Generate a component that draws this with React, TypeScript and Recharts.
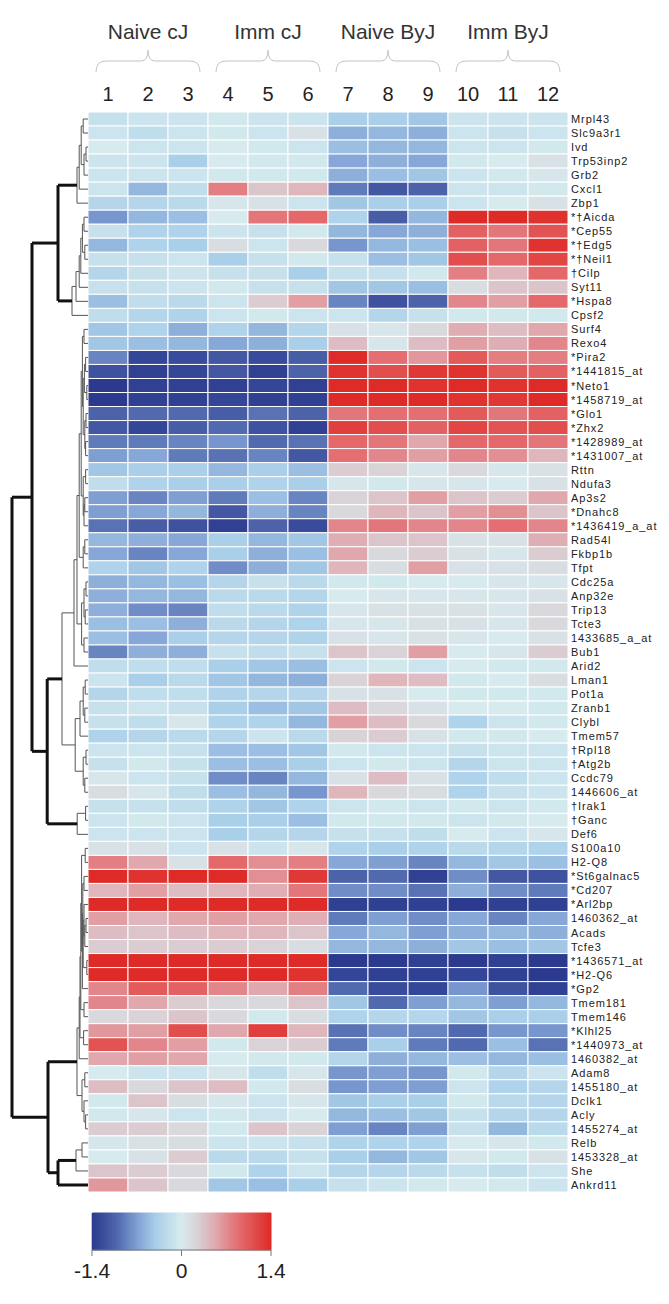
import React from 'react'
import { ComposedChart, XAxis, YAxis, ReferenceArea, ReferenceLine } from 'recharts'

const genes = [
  'Mrpl43', 'Slc9a3r1', 'Ivd', 'Trp53inp2', 'Grb2', 'Cxcl1', 'Zbp1', '*†Aicda', '*Cep55', '*†Edg5',
  '*†Neil1', '†Cilp', 'Syt11', '*Hspa8', 'Cpsf2', 'Surf4', 'Rexo4', '*Pira2', '*1441815_at', '*Neto1',
  '*1458719_at', '*Glo1', '*Zhx2', '*1428989_at', '*1431007_at', 'Rttn', 'Ndufa3', 'Ap3s2', '*Dnahc8', '*1436419_a_at',
  'Rad54l', 'Fkbp1b', 'Tfpt', 'Cdc25a', 'Anp32e', 'Trip13', 'Tcte3', '1433685_a_at', 'Bub1', 'Arid2',
  'Lman1', 'Pot1a', 'Zranb1', 'Clybl', 'Tmem57', '†Rpl18', '†Atg2b', 'Ccdc79', '1446606_at', '†Irak1',
  '†Ganc', 'Def6', 'S100a10', 'H2-Q8', '*St6galnac5', '*Cd207', '*Arl2bp', '1460362_at', 'Acads', 'Tcfe3',
  '*1436571_at', '*H2-Q6', '*Gp2', 'Tmem181', 'Tmem146', '*Klhl25', '*1440973_at', '1460382_at', 'Adam8', '1455180_at',
  'Dclk1', 'Acly', '1455274_at', 'Relb', '1453328_at', 'She', 'Ankrd11',
]

const columns = ['1', '2', '3', '4', '5', '6', '7', '8', '9', '10', '11', '12']
const groups = ['Naive cJ', 'Imm cJ', 'Naive ByJ', 'Imm ByJ']

// samples 1-3
const naiveCJ = [
  [-0.15, -0.1, -0.1], [-0.1, -0.2, -0.1], [0, -0.1, -0.1], [-0.1, -0.1, -0.4], [-0.1, -0.1, -0.1],
  [-0.1, -0.55, -0.2], [-0.3, -0.3, -0.25], [-0.75, -0.55, -0.5], [-0.15, -0.35, -0.35], [-0.55, -0.35, -0.4],
  [-0.15, -0.15, -0.1], [-0.3, -0.15, -0.1], [-0.15, -0.15, -0.1], [-0.5, -0.2, -0.25], [-0.2, -0.3, -0.35],
  [-0.45, -0.35, -0.6], [-0.45, -0.5, -0.55], [-0.85, -1.3, -1.25], [-1.2, -1.35, -1.3], [-1.4, -1.35, -1.35],
  [-1.4, -1.35, -1.35], [-1.05, -1.0, -1.0], [-1.15, -1.3, -1.1], [-0.9, -0.9, -0.85], [-0.7, -0.65, -0.9],
  [-0.45, -0.4, -0.4], [-0.2, -0.35, -0.4], [-0.7, -0.85, -0.7], [-0.7, -0.65, -0.55], [-0.95, -1.1, -1.2],
  [-0.55, -0.6, -0.65], [-0.65, -0.85, -0.65], [-0.35, -0.45, -0.35], [-0.6, -0.55, -0.5], [-0.6, -0.55, -0.55],
  [-0.6, -0.8, -0.85], [-0.5, -0.5, -0.6], [-0.5, -0.65, -0.4], [-0.85, -0.6, -0.6], [-0.2, -0.2, -0.2],
  [-0.1, -0.4, -0.25], [-0.3, -0.2, -0.2], [-0.15, -0.1, -0.15], [-0.15, -0.2, 0.05], [-0.35, -0.3, -0.25],
  [-0.1, -0.1, -0.15], [-0.15, -0.05, -0.15], [0.05, -0.1, -0.15], [0.15, 0.05, -0.2], [-0.15, -0.15, -0.2],
  [-0.1, -0.05, -0.1], [-0.1, -0.1, -0.1], [0.1, 0.1, -0.1], [0.8, 0.55, 0.1], [1.4, 1.35, 1.4],
  [0.45, 0.6, 0.4], [1.4, 1.4, 1.4], [0.6, 0.45, 0.55], [0.4, 0.35, 0.4], [0.3, 0.3, 0.3],
  [1.4, 1.4, 1.4], [1.4, 1.4, 1.4], [0.75, 1.05, 1.0], [0.75, 0.55, 0.3], [0.2, 0.25, 0.35],
  [0.65, 0.6, 1.15], [1.1, 0.75, 0.6], [0.55, 0.6, 0.55], [0, -0.1, -0.1], [0.4, 0.2, 0.35],
  [-0.05, 0.35, 0.15], [-0.05, 0.05, -0.1], [0.3, 0.3, 0.2], [0.05, 0.1, 0.15], [0, 0.1, 0.3],
  [0.35, 0.3, 0.2], [0.65, 0.35, 0.2],
]

// samples 4-6
const immCJ = [
  [-0.05, -0.1, -0.1], [-0.05, -0.1, 0.1], [0, -0.05, -0.1], [0, -0.05, -0.05], [-0.05, -0.05, -0.05],
  [0.8, 0.35, 0.45], [0.05, 0.1, -0.1], [0, 0.85, 0.95], [-0.1, -0.15, -0.05], [0.15, -0.1, 0.2],
  [-0.4, -0.15, -0.05], [-0.15, -0.15, -0.4], [-0.05, -0.15, -0.15], [-0.1, 0.3, 0.6], [-0.1, -0.05, -0.1],
  [-0.35, -0.55, -0.3], [-0.65, -0.6, -0.4], [-1.15, -1.25, -1.1], [-1.15, -1.35, -1.05], [-1.35, -1.3, -1.35],
  [-1.3, -1.35, -1.35], [-1.1, -0.95, -1.05], [-1.0, -1.2, -1.35], [-0.75, -1.0, -0.95], [-0.95, -0.85, -1.15],
  [-0.55, -0.4, -0.5], [-0.4, -0.35, -0.4], [-0.9, -0.5, -0.85], [-1.15, -0.6, -0.85], [-1.35, -1.05, -1.25],
  [-0.4, -0.55, -0.45], [-0.4, -0.6, -0.5], [-0.8, -0.6, -0.45], [-0.3, -0.15, -0.25], [-0.25, -0.25, -0.3],
  [-0.2, -0.25, -0.35], [-0.25, -0.3, -0.35], [-0.3, -0.3, -0.35], [-0.15, -0.2, -0.15], [-0.4, -0.45, -0.5],
  [-0.45, -0.55, -0.6], [-0.35, -0.3, -0.3], [-0.4, -0.5, -0.45], [-0.35, -0.35, -0.55], [-0.3, -0.1, -0.25],
  [-0.5, -0.5, -0.45], [-0.5, -0.5, -0.4], [-0.8, -0.85, -0.55], [-0.5, -0.55, -0.75], [-0.35, -0.45, -0.35],
  [-0.4, -0.4, -0.5], [-0.4, -0.3, -0.3], [0.1, -0.1, 0.05], [0.95, 0.7, 0.8], [1.4, 0.7, 1.3],
  [0.45, 0.5, 0.85], [1.4, 1.4, 1.4], [0.6, 0.55, 0.5], [0.45, 0.45, 0.35], [0.3, 0.25, 0.15],
  [1.4, 1.4, 1.4], [1.4, 1.4, 1.35], [0.75, 0.55, 0.8], [0.2, 0.2, 0.35], [0.2, -0.05, 0.15],
  [0.55, 1.25, 0.45], [-0.05, 0.25, 0.3], [0, -0.05, -0.05], [0.05, -0.2, 0.05], [0.4, -0.05, 0.15],
  [0.05, -0.1, 0.05], [-0.05, -0.1, 0], [-0.05, 0.35, 0.25], [-0.1, -0.1, -0.15], [-0.25, -0.25, -0.15],
  [-0.05, -0.35, -0.1], [-0.45, -0.5, -0.4],
]

// samples 7-9
const naiveByJ = [
  [-0.4, -0.4, -0.45], [-0.6, -0.55, -0.6], [-0.5, -0.55, -0.55], [-0.65, -0.6, -0.65], [-0.6, -0.5, -0.45],
  [-0.9, -1.15, -1.05], [-0.45, -0.4, -0.4], [-0.35, -1.1, -0.55], [-0.55, -0.65, -0.6], [-0.75, -0.55, -0.5],
  [-0.15, -0.5, -0.45], [-0.15, -0.15, -0.05], [-0.45, -0.45, -0.5], [-0.85, -1.2, -1.05], [-0.1, -0.3, -0.15],
  [0.1, 0.05, 0.2], [0.4, 0.05, 0.4], [1.4, 0.9, 0.65], [1.35, 1.15, 1.3], [1.4, 1.4, 1.35],
  [1.4, 1.4, 1.4], [0.85, 0.9, 0.9], [1.25, 1.15, 1.0], [0.95, 0.85, 0.55], [0.9, 0.75, 0.6],
  [0.3, 0.25, 0.05], [0.05, -0.05, 0.05], [0.25, 0.35, 0.6], [0.2, 0.45, 0.35], [0.75, 0.85, 0.75],
  [0.5, 0.35, 0.35], [0.55, 0.2, 0.3], [0.45, 0.15, 0.6], [-0.05, -0.05, 0], [0, 0.05, 0.05],
  [0.05, 0.1, 0.1], [0.05, 0.05, 0.1], [0.1, 0.05, 0.1], [0.35, 0.25, 0.6], [-0.1, -0.05, -0.1],
  [0.25, 0.45, 0.4], [0.1, 0.1, 0], [0.4, 0.2, 0.1], [0.6, 0.4, 0.2], [0.25, 0.3, 0.1],
  [-0.05, -0.1, -0.1], [-0.1, -0.05, -0.1], [0.1, 0.4, 0.1], [0.45, 0.2, 0.15], [-0.1, -0.05, -0.1],
  [-0.05, -0.05, -0.05], [-0.15, -0.15, -0.2], [-0.35, -0.4, -0.35], [-0.65, -0.7, -0.85], [-1.05, -1.0, -1.35],
  [-0.8, -0.8, -0.95], [-1.35, -1.35, -1.35], [-0.9, -0.7, -0.8], [-0.65, -0.55, -0.7], [-0.55, -0.55, -0.6],
  [-1.4, -1.4, -1.35], [-1.3, -1.35, -1.35], [-1.0, -1.25, -1.3], [-0.45, -1.0, -0.7], [-0.35, -0.3, -0.3],
  [-0.95, -0.8, -0.85], [-0.9, -0.4, -0.9], [-0.3, -0.6, -0.55], [-0.75, -0.7, -0.75], [-0.75, -0.7, -0.7],
  [-0.45, -0.4, -0.4], [-0.55, -0.5, -0.45], [-0.7, -0.85, -0.7], [-0.35, -0.35, -0.35], [-0.4, -0.55, -0.45],
  [-0.3, -0.3, -0.25], [-0.15, -0.1, -0.05],
]

// samples 10-12
const immByJ = [
  [-0.1, -0.1, -0.1], [-0.1, -0.15, -0.1], [-0.1, -0.1, -0.05], [-0.05, 0, 0.1], [-0.1, -0.05, 0.05],
  [-0.1, -0.1, -0.05], [-0.1, 0, 0.1], [1.4, 1.4, 1.35], [1.0, 0.85, 1.1], [1.0, 0.85, 1.35],
  [1.15, 0.95, 1.2], [0.8, 0.45, 0.95], [0.15, 0.35, 0.35], [0.75, 0.6, 0.95], [-0.05, -0.05, -0.05],
  [0.5, 0.4, 0.55], [0.6, 0.5, 0.75], [1.05, 0.8, 0.8], [1.35, 1.05, 1.0], [1.4, 1.35, 1.4],
  [1.35, 1.3, 1.4], [1.05, 0.85, 1.0], [1.2, 1.1, 1.15], [0.95, 0.95, 0.85], [0.75, 0.7, 0.45],
  [0.2, 0.05, 0.1], [0.05, 0, 0.1], [0.35, 0.3, 0.55], [0.6, 0.7, 0.35], [0.75, 0.9, 0.75],
  [0.1, 0.1, 0.5], [0.1, 0.05, 0.3], [0.1, 0.1, 0.15], [0, 0.05, 0.05], [0.05, 0.05, 0.1],
  [0.1, 0.05, 0.2], [0.1, 0.05, 0.2], [0.05, 0, 0.1], [0, 0.05, 0.3], [0, -0.05, -0.05],
  [-0.05, 0, 0.15], [-0.05, -0.05, -0.05], [0, 0, -0.05], [-0.35, -0.1, -0.05], [-0.05, -0.05, 0],
  [-0.15, -0.1, -0.1], [-0.3, -0.1, -0.1], [-0.35, -0.2, -0.1], [-0.35, -0.15, -0.1], [-0.05, -0.1, -0.05],
  [-0.1, -0.05, 0], [0, -0.1, 0.05], [-0.25, -0.3, -0.35], [-0.55, -0.45, -0.5], [-0.8, -1.15, -1.2],
  [-0.6, -0.8, -0.9], [-1.4, -1.35, -1.35], [-0.65, -0.85, -0.65], [-0.6, -0.55, -0.6], [-0.45, -0.5, -0.45],
  [-1.4, -1.35, -1.4], [-1.3, -1.35, -1.4], [-0.75, -1.2, -1.35], [-0.55, -0.7, -0.55], [-0.45, -0.4, -0.4],
  [-1.0, -0.75, -0.75], [-1.0, -0.5, -0.95], [-0.5, -0.55, -0.5], [-0.05, -0.3, -0.1], [-0.1, -0.35, -0.3],
  [-0.05, -0.25, -0.3], [-0.15, -0.3, -0.3], [-0.15, -0.55, -0.25], [0, 0.05, -0.05], [0.05, -0.05, 0.1],
  [-0.15, -0.2, -0.1], [0, -0.05, -0.1],
]

const scaleTicks = [-1.4, 0, 1.4]
const colorStops: [number, string][] = [
  [-1.4, '#2b3a8f'], [-1.0, '#5169ae'], [-0.7, '#7f9fd3'], [-0.4, '#a9cfe9'], [0, '#d7ebee'],
  [0.25, '#d9d3d8'], [0.55, '#e0a7ad'], [0.9, '#e46e71'], [1.4, '#df2b28'],
]

// row clustering: [left, right, height]; leaves are row indexes
type Node = number | [Node, Node, number]
const j = (a: Node, b: Node, h: number): Node => [a, b, h]

const clusterA = j(
  j(j(j(j(0, 1, 0.12), j(j(2, 3, 0.05), 4, 0.1), 0.17), 5, 0.22), 6, 0.275),
  j(j(j(j(j(j(7, 8, 0.1), j(9, 10, 0.08), 0.14), 11, 0.18), 12, 0.22), 13, 0.3), 14, 0.4),
  0.75,
)
const core = j(j(j(17, 18, 0.06), j(19, 20, 0.03), 0.09), j(j(21, 22, 0.05), j(23, 24, 0.06), 0.08), 0.12)
const clusterM = j(
  j(j(j(15, 16, 0.1), core, 0.14), j(j(25, 26, 0.06), j(j(27, 28, 0.08), 29, 0.1), 0.12), 0.17),
  j(j(30, 31, 0.08), 32, 0.12),
  0.22,
)
const clusterE1 = j(j(j(33, 34, 0.05), j(35, 36, 0.07), 0.1), j(37, 38, 0.1), 0.16)
const clusterE2 = j(
  j(j(j(40, 41, 0.07), j(42, 43, 0.08), 0.12), 44, 0.2),
  j(j(45, 46, 0.05), j(47, 48, 0.08), 0.12),
  0.32,
)
const clusterE = j(j(j(clusterM, clusterE1, 0.275), 39, 0.35), clusterE2, 0.65)
const clusterC = j(clusterE, j(j(49, 50, 0.06), 51, 0.27), 1.02)
const core2 = j(j(54, 55, 0.1), j(j(56, j(j(57, 58, 0.05), 59, 0.08), 0.1), j(60, 61, 0.03), 0.12), 0.13)
const clusterD1a = j(
  j(j(j(j(52, 53, 0.07), j(core2, 62, 0.14), 0.16), j(63, 64, 0.1), 0.18), j(65, 66, 0.11), 0.2),
  67,
  0.22,
)
const clusterD1 = j(clusterD1a, j(j(68, 69, 0.08), j(70, j(71, 72, 0.06), 0.1), 0.15), 0.275)
const clusterD2 = j(j(j(73, 74, 0.15), 75, 0.3), 76, 0.75)
const tree: Node = j(j(clusterA, clusterC, 1.4), j(clusterD1, clusterD2, 1.0), 1.9)

const FONT = 'Liberation Sans, Arial, sans-serif'

function hex(c: string) {
  return [1, 3, 5].map((i) => parseInt(c.slice(i, i + 2), 16))
}

function colorFor(v: number) {
  const x = Math.max(-1.4, Math.min(1.4, v))
  for (let i = 1; i < colorStops.length; i++) {
    const [v1, c1] = colorStops[i]
    if (x <= v1) {
      const [v0, c0] = colorStops[i - 1]
      const t = (x - v0) / (v1 - v0)
      const a = hex(c0), b = hex(c1)
      const m = a.map((n, k) => Math.round(n + (b[k] - n) * t))
      return `rgb(${m[0]},${m[1]},${m[2]})`
    }
  }
  return colorStops[colorStops.length - 1][1]
}

interface Seg { x1: number; y1: number; x2: number; y2: number; thick: boolean }

function layout(node: Node, segs: Seg[]): { y: number; h: number } {
  if (typeof node === 'number') return { y: node + 0.5, h: 0 }
  const [a, b, h] = node
  const l = layout(a, segs)
  const r = layout(b, segs)
  const thick = h >= 0.7
  segs.push({ x1: -h, y1: l.y, x2: -h, y2: r.y, thick })
  segs.push({ x1: -l.h, y1: l.y, x2: -h, y2: l.y, thick })
  segs.push({ x1: -r.h, y1: r.y, x2: -h, y2: r.y, thick })
  return { y: (l.y + r.y) / 2, h }
}

const ColumnTick = (props: any) => {
  const { x, y, payload } = props
  const i = Math.floor(payload.value)
  const showGroup = i % 3 === 1
  const w = 52
  return (
    <g>
      <text x={x} y={y - 11} textAnchor="middle" fontSize={20} fill="#222" fontFamily={FONT}>
        {columns[i]}
      </text>
      {showGroup && (
        <g>
          <text x={x} y={y - 73} textAnchor="middle" fontSize={21} fill="#333" fontFamily={FONT}>
            {groups[(i - 1) / 3]}
          </text>
          <path
            d={`M${x - w},${y - 40} Q${x - w},${y - 51} ${x - w + 10},${y - 51} L${x - 7},${y - 51} Q${x},${y - 51} ${x},${y - 62} Q${x},${y - 51} ${x + 7},${y - 51} L${x + w - 10},${y - 51} Q${x + w},${y - 51} ${x + w},${y - 40}`}
            fill="none"
            stroke="#c4c4c4"
            strokeWidth={1}
          />
        </g>
      )}
    </g>
  )
}

const GeneTick = (props: any) => {
  const { x, y, payload } = props
  return (
    <text x={x + 3} y={y} dy={4} fontSize={11} letterSpacing={0.9} fill="#222" fontFamily={FONT} textAnchor="start">
      {genes[Math.floor(payload.value)]}
    </text>
  )
}

export default function App() {
  const samples = genes.map((_, r) => [...naiveCJ[r], ...immCJ[r], ...naiveByJ[r], ...immByJ[r]])
  const segs: Seg[] = []
  layout(tree, segs)
  const step = 0.02
  const slices = Array.from({ length: Math.round(2.8 / step) }, (_, i) => -1.4 + i * step)

  return (
    <div style={{ position: 'absolute', left: 0, top: 0, width: 669, height: 1304, background: '#fff' }}>
      <ComposedChart width={669} height={1200} margin={{ top: 2, right: 0, bottom: 8, left: 8 }}>
        <XAxis
          type="number"
          dataKey="x"
          domain={[-2, 12]}
          orientation="top"
          height={110}
          ticks={columns.map((_, i) => i + 0.5)}
          interval={0}
          tick={<ColumnTick />}
          tickSize={0}
          tickMargin={0}
          axisLine={false}
          allowDataOverflow
        />
        <YAxis
          type="number"
          dataKey="y"
          domain={[0, genes.length]}
          reversed
          orientation="right"
          width={101}
          ticks={genes.map((_, i) => i + 0.5)}
          interval={0}
          tick={<GeneTick />}
          tickSize={0}
          tickMargin={0}
          axisLine={false}
          allowDataOverflow
        />
        {samples.map((row, r) =>
          row.map((v, c) => (
            <ReferenceArea
              key={`c-${r}-${c}`}
              x1={c}
              x2={c + 1}
              y1={r}
              y2={r + 1}
              fill={colorFor(v)}
              fillOpacity={1}
              stroke="#ffffff"
              strokeWidth={1}
              ifOverflow="visible"
            />
          )),
        )}
        {segs.map((s, i) => (
          <ReferenceLine
            key={`d-${i}`}
            segment={[{ x: s.x1, y: s.y1 }, { x: s.x2, y: s.y2 }]}
            stroke={s.thick ? '#111' : '#555'}
            strokeWidth={s.thick ? 3 : 1}
            ifOverflow="visible"
          />
        ))}
      </ComposedChart>
      <div style={{ position: 'absolute', left: 0, top: 1205 }}>
        <ComposedChart width={300} height={90} margin={{ top: 8, right: 29, bottom: 0, left: 92 }}>
          <XAxis
            type="number"
            dataKey="x"
            domain={[-1.4, 1.4]}
            ticks={scaleTicks}
            interval={0}
            height={45}
            tickSize={6}
            tickMargin={7}
            stroke="#777"
            tick={{ fontSize: 21, fill: '#222', fontFamily: FONT }}
            allowDataOverflow
          />
          <YAxis type="number" dataKey="y" domain={[0, 1]} ticks={[0, 1]} width={0} hide allowDataOverflow />
          {slices.map((v) => (
            <ReferenceArea
              key={`g-${v}`}
              x1={v}
              x2={Math.min(1.4, v + step * 2)}
              y1={0}
              y2={1}
              fill={colorFor(v + step / 2)}
              fillOpacity={1}
              stroke={colorFor(v + step / 2)}
              strokeWidth={0.6}
              ifOverflow="visible"
            />
          ))}
        </ComposedChart>
      </div>
    </div>
  )
}
